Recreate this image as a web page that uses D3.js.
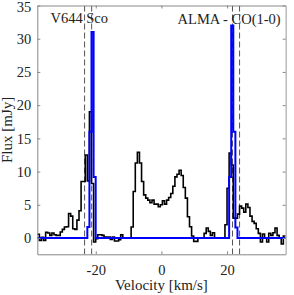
<!DOCTYPE html>
<html><head><meta charset="utf-8">
<script src="https://cdn.jsdelivr.net/npm/d3@7"></script>
<style>body{margin:0;background:#fff}svg{display:block}text{font-family:"Liberation Serif","Times New Roman",serif;fill:#222}</style>
</head><body>
<script>
// Channel grid (km/s)
const velStart = -37.8;
const chanWidth = 0.635;
// Observed flux (mJy) per channel
const fluxObs = [0.56,-0.35,0.1,-0.35,0.86,0.76,0.4,0.76,0.5,0.4,
 0.4,0.9,1.3,1.67,1.7,3.7,3.3,1.4,1.3,2.7,
 4.1,8.5,8.5,12.5,8.6,19,8.2,-0.6,-0.1,0.5,
 0.5,0.4,0.15,0.15,0.15,-0.2,0.15,-0.45,-0.45,-0.25,
 0.5,0,0,0,0,1.67,7.0,11.3,12.9,11.3,
 8.5,6.5,6.0,5.7,5.3,5.7,5.1,5.1,4.7,5.0,
 5.6,5.1,5.7,6.1,6.7,7.8,9.2,9.6,10.2,9.4,
 7.6,6.0,3.2,1.7,0.3,-0.5,-0.5,0,0,0,
 0.7,1.5,1.0,0.4,0.8,0,0,0,0,0,
 2.0,7.5,12.8,11,3.0,3.0,3.6,4.8,4.5,3.9,
 5.1,4.6,3.3,2.5,2.2,1.4,0.7,-0.6,0.6,0,
 -0.6,0.7,0.4,0.8,1.5,0.4,0,-0.9,0.3,0.3];
// Model flux (mJy) per channel
const fluxModel = [0,0,0,0,0,0,0,0,0,0,
 0,0,0,0,0,0,0,0,0,0,
 0,0,0,0,1.67,16,31,9.2,0,0,
 0,0,0,0,0,0,0,0,0,0,
 0,0,0,0,0,0,0,0,0,0,
 0,0,0,0,0,0,0,0,0,0,
 0,0,0,0,0,0,0,0,0,0,
 0,0,0,0,0,0,0,0,0,0,
 0,0,0,0,0,0,0,0,0,0,
 0,0,9.2,32,16,1.6,0,0,0,0,
 0,0,0,0,0,0,0,0,0,0,
 0,0,0,0,0,0,0,0,0,0];
const markerVel = [-23.4, -21.25, 21.65, 23.8];
const xTicks = [-20, 0, 20];
const yTicks = [0, 5, 10, 15, 20, 25, 30, 35];
const titleLeft = "V644 Sco";
const titleRight = "ALMA - CO(1-0)";
const xLabel = "Velocity [km/s]";
const yLabel = "Flux [mJy]";

const W = 294, H = 295;
const m = {l: 37.3, r: 8.3, t: 5.5, b: 40.7};
const iw = W - m.l - m.r, ih = H - m.t - m.b;
const x = d3.scaleLinear().domain([-37.8, 37.85]).range([0, iw]);
const y = d3.scaleLinear().domain([-2.45, 35]).range([ih, 0]);

const svg = d3.select("body").append("svg").attr("width", W).attr("height", H);
svg.append("defs").append("clipPath").attr("id","clip")
  .append("rect").attr("width", iw).attr("height", ih);
const g = svg.append("g").attr("transform", `translate(${m.l},${m.t})`);

function stepPts(arr){
  const pts = arr.map((f,i)=>[velStart + i*chanWidth, f]);
  pts.push([velStart + arr.length*chanWidth, arr[arr.length-1]]);
  return pts;
}
const line = d3.line().x(d=>x(d[0])).y(d=>y(d[1])).curve(d3.curveStepAfter);

const plot = g.append("g").attr("clip-path","url(#clip)");
plot.selectAll("line.mk").data(markerVel).join("line").attr("class","mk")
  .attr("x1", d=>x(d)).attr("x2", d=>x(d)).attr("y1", 0).attr("y2", ih)
  .attr("stroke", "#555").attr("stroke-width", 1).attr("stroke-dasharray", "6,3");
plot.append("path").attr("d", line(stepPts(fluxObs))).attr("fill","none")
  .attr("stroke","#000").attr("stroke-width",1.6);
plot.append("path").attr("d", line(stepPts(fluxModel))).attr("fill","none")
  .attr("stroke","#0000ff").attr("stroke-width",2);

// axes
const ax = "#888";
const xb = g.append("g").attr("transform", `translate(0,${ih})`)
  .call(d3.axisBottom(x).tickValues(xTicks).tickSizeInner(-3).tickSizeOuter(0).tickPadding(10).tickFormat(d3.format("d")));
const xt = g.append("g").call(d3.axisTop(x).tickValues(xTicks).tickSizeInner(-3).tickSizeOuter(0).tickFormat(""));
const yl = g.append("g").call(d3.axisLeft(y).tickValues(yTicks).tickSizeInner(-3).tickSizeOuter(0).tickPadding(6));
const yr = g.append("g").attr("transform", `translate(${iw},0)`)
  .call(d3.axisRight(y).tickValues(yTicks).tickSizeInner(-3).tickSizeOuter(0).tickFormat(""));
[xb, xt, yl, yr].forEach(a=>{
  a.select(".domain").attr("stroke", ax);
  a.selectAll(".tick line").attr("stroke", ax);
  a.selectAll("text").attr("font-size", 14.5).attr("font-family", null).attr("fill", "#222");
});
yr.select(".domain").attr("stroke", "#bbb").attr("stroke-width", 1.5);
xb.selectAll("text").text(d => d < 0 ? "-" + Math.abs(d) : d);
yl.selectAll(".tick text").filter(d => d === 35).attr("dy", "0.42em");

g.append("text").attr("x", x(-33.8)).attr("y", 17.5).attr("font-size", 14.5).text(titleLeft);
g.append("text").attr("x", iw - 5).attr("y", 18.5).attr("text-anchor","end").attr("font-size", 14.5).text(titleRight);
svg.append("text").attr("x", m.l + x(0)).attr("y", 290).attr("text-anchor","middle").attr("font-size", 15).text(xLabel);
svg.append("text").attr("transform", `translate(12,${m.t + ih/2}) rotate(-90)`).attr("text-anchor","middle").attr("font-size", 15).text(yLabel);
</script>
</body></html>
